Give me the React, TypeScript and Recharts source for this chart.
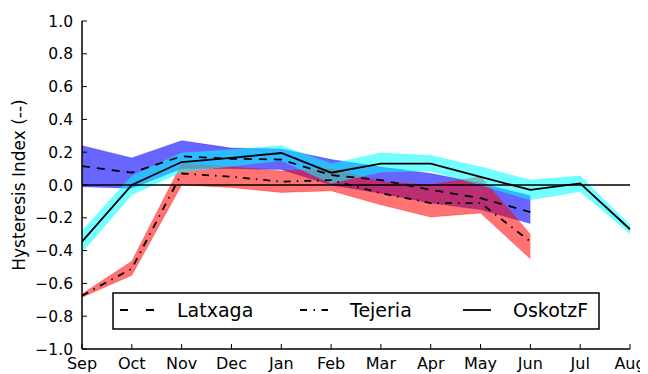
import React from 'react';
import { ComposedChart, Area, Line, XAxis, YAxis, ReferenceLine } from 'recharts';

const months = ['Sep', 'Oct', 'Nov', 'Dec', 'Jan', 'Feb', 'Mar', 'Apr', 'May', 'Jun', 'Jul', 'Aug'];

const latxaga = [0.115, 0.075, 0.175, 0.16, 0.155, 0.06, 0.03, -0.03, -0.08, -0.165, null, null];
const latxagaLow = [-0.01, -0.02, 0.1, 0.1, 0.095, 0.0, -0.05, -0.11, -0.15, -0.235, null, null];
const latxagaHigh = [0.24, 0.165, 0.27, 0.225, 0.22, 0.155, 0.11, 0.07, 0.01, -0.065, null, null];

const tejeria = [-0.675, -0.51, 0.07, 0.05, 0.02, 0.03, -0.05, -0.11, -0.11, -0.345, null, null];
const tejeriaLow = [-0.685, -0.55, 0.0, -0.015, -0.045, -0.035, -0.12, -0.195, -0.17, -0.45, null, null];
const tejeriaHigh = [-0.665, -0.465, 0.13, 0.11, 0.085, 0.1, 0.02, 0.0, 0.05, -0.3, null, null];

const oskotz = [-0.345, 0.0, 0.14, 0.165, 0.195, 0.075, 0.13, 0.13, 0.05, -0.03, 0.01, -0.27];
const oskotzLow = [-0.41, -0.06, 0.08, 0.115, 0.15, 0.01, 0.08, 0.085, 0.0, -0.09, -0.04, -0.295];
const oskotzHigh = [-0.28, 0.055, 0.195, 0.215, 0.24, 0.13, 0.195, 0.18, 0.11, 0.03, 0.055, -0.245];

const yTicks = [-1, -0.8, -0.6, -0.4, -0.2, 0, 0.2, 0.4, 0.6, 0.8, 1];

const seriesNames = ['Latxaga', 'Tejeria', 'OskotzF'];

const band = (lo: (number | null)[], hi: (number | null)[], i: number) =>
  lo[i] == null || hi[i] == null ? null : [lo[i], hi[i]];

const data = months.map((m, i) => ({
  month: m,
  latxaga: latxaga[i],
  latxagaBand: band(latxagaLow, latxagaHigh, i),
  tejeria: tejeria[i],
  tejeriaBand: band(tejeriaLow, tejeriaHigh, i),
  oskotz: oskotz[i],
  oskotzBand: band(oskotzLow, oskotzHigh, i),
}));

const FONT = '"DejaVu Sans", sans-serif';

const fmtY = (v: number) => (v < 0 ? '\u2212' : '') + Math.abs(v).toFixed(1);

const DASHED = '8 7';
const DASHDOT = '7 6 1.5 6';

const LegendBox = () => (
  <svg width={488} height={38} style={{ position: 'absolute', left: 104, top: 284, overflow: 'visible' }}>
    <rect x={1} y={1} width={486} height={36} fill="white" stroke="black" strokeWidth={1.5} />
    <line x1={8} x2={42} y1={18} y2={18} stroke="black" strokeWidth={1.8} strokeDasharray="8 18" />
    <text x={65} y={24.5} fontFamily={FONT} fontSize={19} fill="black">{seriesNames[0]}</text>
    <line x1={188} x2={216} y1={18} y2={18} stroke="black" strokeWidth={1.8} strokeDasharray="7 6.5 1.5 6.5" />
    <text x={238} y={24.5} fontFamily={FONT} fontSize={19} fill="black">{seriesNames[1]}</text>
    <line x1={351} x2={379} y1={18} y2={18} stroke="black" strokeWidth={1.8} />
    <text x={401} y={24.5} fontFamily={FONT} fontSize={19} fill="black">{seriesNames[2]}</text>
  </svg>
);

export default function App() {
  return (
    <div style={{ position: 'relative', width: 640, height: 366, fontFamily: FONT }}>
      <ComposedChart width={640} height={366} data={data} margin={{ top: 13, right: 18, bottom: 0, left: 0 }}>
        <XAxis
          dataKey="month"
          scale="point"
          padding={{ left: 0, right: 0 }}
          interval={0}
          height={25}
          tickSize={-5}
          tickMargin={14}
          axisLine={{ stroke: 'black', strokeWidth: 1.5 }}
          tickLine={{ stroke: 'black', strokeWidth: 1 }}
          tick={{ fill: 'black', fontSize: 16, fontFamily: FONT }}
        />
        <YAxis
          type="number"
          domain={[-1, 1]}
          ticks={yTicks}
          interval={0}
          width={74}
          tickSize={-5}
          tickMargin={14}
          tickFormatter={fmtY}
          axisLine={{ stroke: 'black', strokeWidth: 1.5 }}
          tickLine={{ stroke: 'black', strokeWidth: 1 }}
          tick={{ fill: 'black', fontSize: 15.5, fontFamily: FONT }}
          label={{
            content: () => (
              <text
                x={17}
                y={177}
                transform="rotate(-90 17 177)"
                textAnchor="middle"
                fontFamily={FONT}
                fontSize={17}
                fill="black"
              >
                Hysteresis Index (--)
              </text>
            ),
          }}
        />
        <Area dataKey="latxagaBand" type="linear" stroke="#0000ff" strokeOpacity={0.3} fill="#0000ff" fillOpacity={0.6} isAnimationActive={false} dot={false} activeDot={false} />
        <Area dataKey="tejeriaBand" type="linear" stroke="#ff0000" strokeOpacity={0.3} fill="#ff0000" fillOpacity={0.55} isAnimationActive={false} dot={false} activeDot={false} />
        <Area dataKey="oskotzBand" type="linear" stroke="#00ffff" strokeOpacity={0.3} fill="#00ffff" fillOpacity={0.55} isAnimationActive={false} dot={false} activeDot={false} />
        <ReferenceLine y={0} stroke="black" strokeWidth={1.5} />
        <Line dataKey="latxaga" type="linear" stroke="black" strokeWidth={1.8} strokeDasharray={DASHED} dot={false} activeDot={false} isAnimationActive={false} />
        <Line dataKey="tejeria" type="linear" stroke="black" strokeWidth={1.8} strokeDasharray={DASHDOT} dot={false} activeDot={false} isAnimationActive={false} />
        <Line dataKey="oskotz" type="linear" stroke="black" strokeWidth={1.8} dot={false} activeDot={false} isAnimationActive={false} />
      </ComposedChart>
      <LegendBox />
    </div>
  );
}
